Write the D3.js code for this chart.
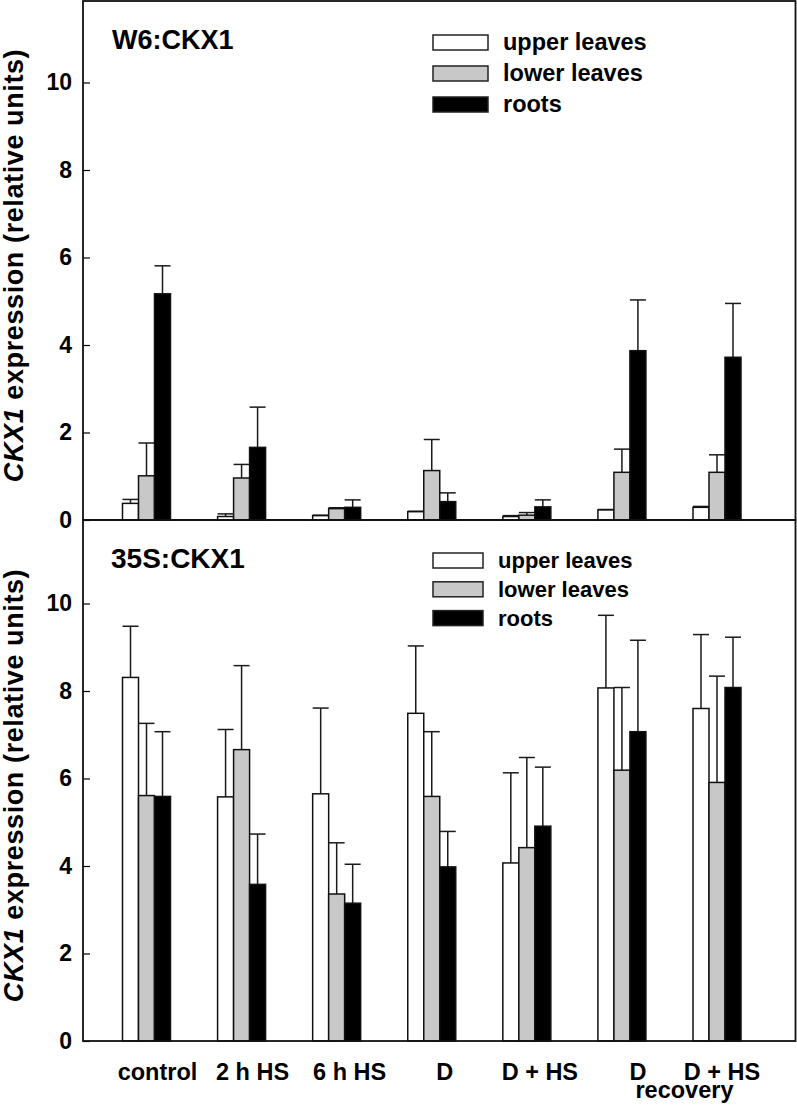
<!DOCTYPE html>
<html>
<head>
<meta charset="utf-8">
<script src="https://cdn.jsdelivr.net/npm/d3@7"></script>
<style>
  html, body { margin: 0; padding: 0; background: #fff; }
  svg { display: block; }
  text { font-family: "Liberation Sans", Arial, Helvetica, sans-serif; font-weight: bold; fill: #000; }
</style>
</head>
<body>
<svg id="chart" width="797" height="1107"></svg>
<script>
// ---------- DATA ----------
const categories = ["control", "2 h HS", "6 h HS", "D", "D + HS", "D recovery", "D + HS recovery"];
const tickLabels = ["control", "2 h HS", "6 h HS", "D", "D + HS", "D", "D + HS"];
const sharedLabel = "recovery";
const series = ["upper leaves", "lower leaves", "roots"];
const yTicks = [0, 2, 4, 6, 8, 10];

// W6:CKX1 panel
const w6Upper     = [0.38, 0.08, 0.10, 0.19, 0.08, 0.23, 0.29];
const w6UpperErr  = [0.09, 0.06, 0.01, 0.01, 0.02, 0.01, 0.02];
const w6Lower     = [1.01, 0.96, 0.26, 1.13, 0.11, 1.09, 1.09];
const w6LowerErr  = [0.75, 0.31, 0.02, 0.71, 0.06, 0.53, 0.40];
const w6Roots     = [5.17, 1.66, 0.29, 0.42, 0.30, 3.87, 3.72];
const w6RootsErr  = [0.64, 0.92, 0.17, 0.20, 0.16, 1.16, 1.23];

// 35S:CKX1 panel
const s35Upper    = [8.31, 5.58, 5.65, 7.49, 4.07, 8.07, 7.60];
const s35UpperErr = [1.17, 1.54, 1.96, 1.54, 2.06, 1.66, 1.69];
const s35Lower    = [5.61, 6.66, 3.36, 5.59, 4.42, 6.19, 5.91];
const s35LowerErr = [1.65, 1.92, 1.17, 1.48, 2.06, 1.89, 2.43];
const s35Roots    = [5.59, 3.58, 3.15, 3.98, 4.91, 7.07, 8.08];
const s35RootsErr = [1.48, 1.15, 0.89, 0.81, 1.35, 2.09, 1.15];

// ---------- LAYOUT ----------
const fills = {"upper leaves": "#ffffff", "lower leaves": "#c8c8c9", "roots": "#000000"};
const frameLeft = 83, frameRight = 795.5;
const labelDx = [11, 11, 13, 13, 13, 16, 5];

const svg = d3.select("#chart");

const x = d3.scalePoint().domain(categories).range([146.5, 717]);
const xSub = d3.scaleBand().domain(series).range([-24, 24]);

function buildRows(vals, errs) {
  const rows = [];
  categories.forEach((c, i) => {
    series.forEach((s, j) => {
      rows.push({cat: c, ser: s, v: vals[j][i], e: errs[j][i]});
    });
  });
  return rows;
}

const panels = [
  {
    title: "W6:CKX1", top: 1, bottom: 520,
    rows: buildRows([w6Upper, w6Lower, w6Roots], [w6UpperErr, w6LowerErr, w6RootsErr]),
    titleY: 49, titleX: 112, titleSize: 27,
    legend: {boxX: 433, boxW: 55, boxH: 15, textX: 503, baseY: 50, step: 31, size: 23.5}
  },
  {
    title: "35S:CKX1", top: 520, bottom: 1041,
    rows: buildRows([s35Upper, s35Lower, s35Roots], [s35UpperErr, s35LowerErr, s35RootsErr]),
    titleY: 568, titleX: 111, titleSize: 28,
    legend: {boxX: 433, boxW: 50, boxH: 15, textX: 498, baseY: 568, step: 28.8, size: 22}
  }
];

panels.forEach(p => {
  const y = d3.scaleLinear().domain([0, 11.9]).range([p.bottom, p.bottom - 11.9 * 43.75]);
  const g = svg.append("g");

  // error bars (upper only)
  const eb = g.append("g").attr("stroke", "#1a1a1a").attr("stroke-width", 1.5);
  p.rows.forEach(d => {
    const cx = x(d.cat) + xSub(d.ser) + xSub.bandwidth() / 2;
    eb.append("line").attr("x1", cx).attr("x2", cx).attr("y1", y(d.v)).attr("y2", y(d.v + d.e));
    eb.append("line").attr("x1", cx - 8).attr("x2", cx + 8).attr("y1", y(d.v + d.e)).attr("y2", y(d.v + d.e));
  });

  // bars
  g.append("g").selectAll("rect").data(p.rows).join("rect")
    .attr("x", d => x(d.cat) + xSub(d.ser))
    .attr("width", xSub.bandwidth())
    .attr("y", d => y(d.v))
    .attr("height", d => y(0) - y(d.v))
    .attr("fill", d => fills[d.ser])
    .attr("stroke", "#111")
    .attr("stroke-width", 1.5);

  // y axis
  const ax = g.append("g").attr("transform", `translate(${frameLeft},0)`)
    .call(d3.axisLeft(y).tickValues(yTicks).tickFormat(d3.format("d"))
      .tickSizeInner(-7).tickSizeOuter(0).tickPadding(11));
  ax.select(".domain").remove();
  ax.selectAll(".tick line").attr("stroke", "#000").attr("stroke-width", 1.2);
  ax.selectAll(".tick text").style("font-size", "23px").style("font-family", "'Liberation Sans', Arial, sans-serif")
    .style("font-weight", "bold").attr("fill", "#000");

  // frame
  g.append("rect").attr("x", frameLeft).attr("y", p.top)
    .attr("width", frameRight - frameLeft).attr("height", p.bottom - p.top)
    .attr("fill", "none").attr("stroke", "#111").attr("stroke-width", 1.8);

  // title
  g.append("text").attr("x", p.titleX).attr("y", p.titleY)
    .style("font-size", p.titleSize + "px").text(p.title);

  // legend
  const L = p.legend;
  series.forEach((s, i) => {
    const by = L.baseY + i * L.step;
    g.append("rect").attr("x", L.boxX).attr("y", by - L.boxH).attr("width", L.boxW).attr("height", L.boxH)
      .attr("fill", fills[s]).attr("stroke", "#222").attr("stroke-width", 1.5);
    g.append("text").attr("x", L.textX).attr("y", by).style("font-size", L.size + "px").text(s);
  });

  // y label
  const midY = (p.top + p.bottom) / 2 + 5;
  const yl = g.append("text")
    .attr("transform", `translate(23,${midY}) rotate(-90)`)
    .attr("text-anchor", "middle")
    .style("font-size", "27px")
    .style("letter-spacing", "0.6px");
  yl.append("tspan").style("font-style", "italic").text("CKX1");
  yl.append("tspan").text(" expression (relative units)");
});

// x labels
const xl = svg.append("g");
categories.forEach((c, i) => {
  xl.append("text").attr("x", x(c) + labelDx[i]).attr("y", 1080)
    .attr("text-anchor", "middle").style("font-size", "23.5px").text(tickLabels[i]);
});
const recX = (x(categories[5]) + x(categories[6])) / 2 + 15;
xl.append("text").attr("x", recX).attr("y", 1098).attr("text-anchor", "middle")
  .style("font-size", "23.5px").text(sharedLabel);
</script>
</body>
</html>
